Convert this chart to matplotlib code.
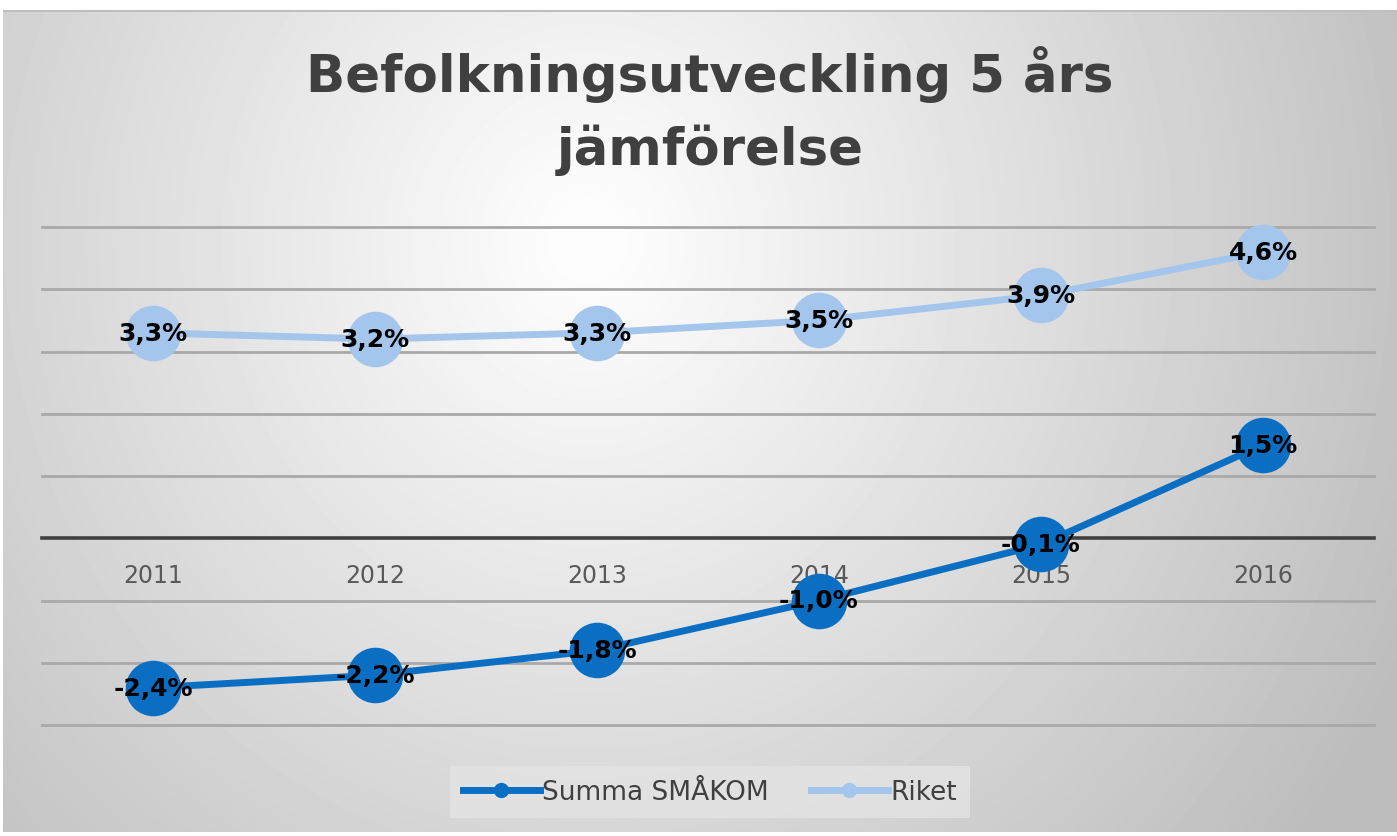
import numpy as np
import matplotlib
matplotlib.use("Agg")
import matplotlib.pyplot as plt
from matplotlib.lines import Line2D

years = ['2011', '2012', '2013', '2014', '2015', '2016']
summa_smakom = [-2.4, -2.2, -1.8, -1.0, -0.1, 1.5]
riket = [3.3, 3.2, 3.3, 3.5, 3.9, 4.6]

dark_blue = '#0a6fc2'
light_blue = '#a4c6ec'

plt.rcParams['font.family'] = ['DejaVu Sans']

W, H = 1397, 837
fig = plt.figure(figsize=(W / 100, H / 100), dpi=100)
fig.patch.set_facecolor('white')

# --- soft radial gray background ---
bg = fig.add_axes([3 / W, 4 / H, 1 - 3 / W, 1 - 16 / H], zorder=-10)
gx, gy = np.meshgrid(np.linspace(0, 1, 400), np.linspace(0, 1, 240))
dist = np.sqrt((gx - 0.42) ** 2 + ((gy - 0.28) * 0.55) ** 2)
shade = np.clip(1.0 - 0.4 * dist, 0.74, 0.99)
bg.imshow(shade, cmap='gray', vmin=0, vmax=1, aspect='auto',
          extent=[0, 1, 1, 0], interpolation='bilinear')
bg.axis('off')
fig.add_artist(plt.Rectangle((3 / W, 1 - 13 / H), 1 - 3 / W, 2 / H,
                             transform=fig.transFigure, color='#bdbdbd', lw=0))

# --- main axes ---
ax = fig.add_axes([42 / W, 1 - 726 / H, (1374 - 42) / W, (726 - 228) / H])
ax.patch.set_alpha(0)
x = np.arange(len(years))
ax.set_xlim(-0.5, len(years) - 0.5)
ax.set_ylim(-3, 5)

for yv in range(-3, 6):
    if yv != 0:
        ax.axhline(yv, color='#a9a9a9', lw=2, zorder=1, clip_on=False)

for s in ['top', 'right', 'left']:
    ax.spines[s].set_visible(False)
ax.spines['bottom'].set_position(('data', 0))
ax.spines['bottom'].set_color('#404040')
ax.spines['bottom'].set_linewidth(2.6)
ax.spines['bottom'].set_zorder(2)

ax.set_yticks([])
ax.set_xticks(x)
ax.set_xticklabels(years, fontsize=17, color='#595959')
ax.tick_params(axis='x', length=0, pad=18)

ax.plot(x, summa_smakom, color=dark_blue, lw=5, marker='o', markersize=40,
        markeredgewidth=0, zorder=4, solid_capstyle='round', clip_on=False)
ax.plot(x, riket, color=light_blue, lw=5, marker='o', markersize=40,
        markeredgewidth=0, zorder=4, solid_capstyle='round', clip_on=False)

for xi, v in zip(x, summa_smakom):
    ax.text(xi, v, f"{v:.1f}%".replace('.', ','), ha='center', va='center',
            fontsize=18, fontweight='bold', color='black', zorder=6)
for xi, v in zip(x, riket):
    ax.text(xi, v, f"{v:.1f}%".replace('.', ','), ha='center', va='center',
            fontsize=18, fontweight='bold', color='black', zorder=6)

# --- title ---
fig.text(710 / W, 1 - 111 / H, 'Befolkningsutveckling 5 års\njämförelse',
         ha='center', va='center', fontsize=37, fontweight='bold',
         color='#404040', linespacing=1.55)

# --- legend ---
handles = [Line2D([], [], color=dark_blue, lw=5, marker='o', markersize=10),
           Line2D([], [], color=light_blue, lw=5, marker='o', markersize=10)]
leg = fig.legend(handles, ['Summa SMÅKOM', 'Riket'], loc='center',
                 bbox_to_anchor=(710 / W, 1 - 793 / H), ncol=2, frameon=True,
                 fontsize=19, handlelength=2.9, handletextpad=0.1,
                 columnspacing=1.6, borderpad=0.5, borderaxespad=0,
                 fancybox=False)
leg.get_frame().set_facecolor('#e4e4e4')
leg.get_frame().set_edgecolor('none')
for t in leg.get_texts():
    t.set_color('#404040')

fig.savefig('out.png', dpi=100)
